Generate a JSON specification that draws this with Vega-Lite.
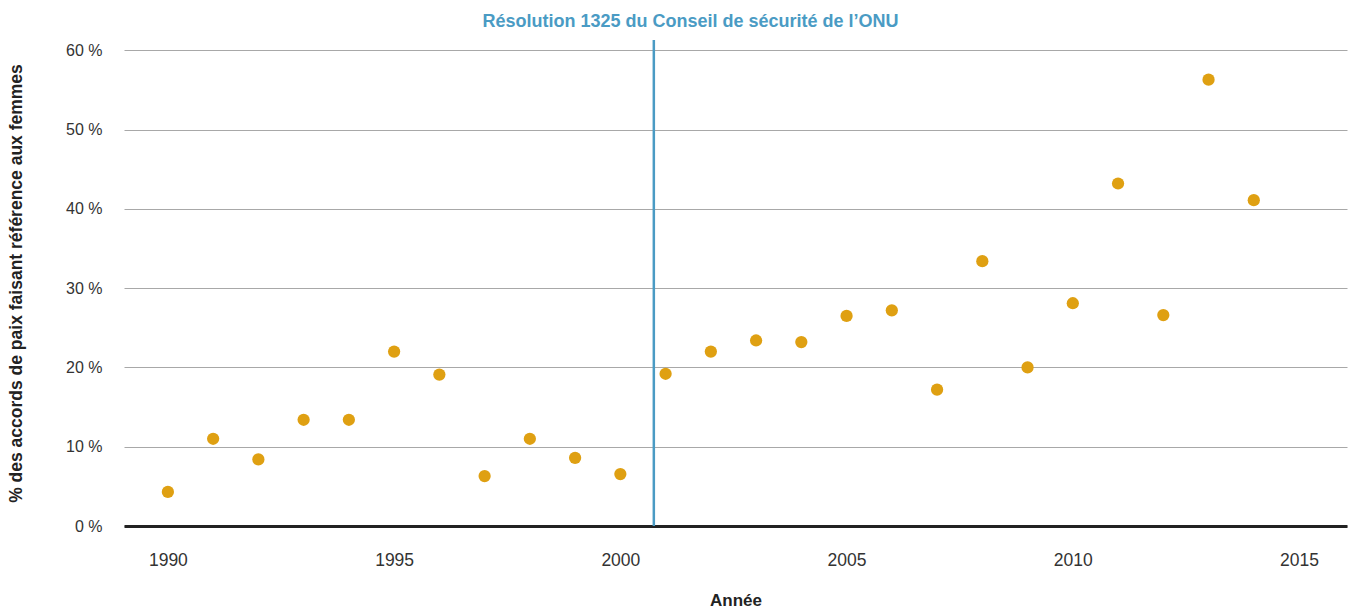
{
  "$schema": "https://vega.github.io/schema/vega-lite/v6.json",
  "autosize": "none",
  "width": 1223,
  "height": 486,
  "padding": {"left": 124, "top": 40, "right": 2, "bottom": 86},
  "background": "white",
  "config": {
    "view": {"stroke": null},
    "font": "Liberation Sans"
  },
  "datasets": {
    "pts": [
      {"annee": 1990, "pct": 4.3},
      {"annee": 1991, "pct": 11.0},
      {"annee": 1992, "pct": 8.4},
      {"annee": 1993, "pct": 13.4},
      {"annee": 1994, "pct": 13.4},
      {"annee": 1995, "pct": 22.0},
      {"annee": 1996, "pct": 19.1},
      {"annee": 1997, "pct": 6.3},
      {"annee": 1998, "pct": 11.0},
      {"annee": 1999, "pct": 8.6},
      {"annee": 2000, "pct": 6.55},
      {"annee": 2001, "pct": 19.2},
      {"annee": 2002, "pct": 22.0},
      {"annee": 2003, "pct": 23.4},
      {"annee": 2004, "pct": 23.2},
      {"annee": 2005, "pct": 26.5},
      {"annee": 2006, "pct": 27.2},
      {"annee": 2007, "pct": 17.2},
      {"annee": 2008, "pct": 33.4},
      {"annee": 2009, "pct": 20.0},
      {"annee": 2010, "pct": 28.1},
      {"annee": 2011, "pct": 43.2},
      {"annee": 2012, "pct": 26.6},
      {"annee": 2013, "pct": 56.3},
      {"annee": 2014, "pct": 41.1}
    ],
    "evt": [
      {"annee": 2000.74, "y0": 0, "y1": 61.3, "tx": 2001.55, "ty": 63.0, "label": "Résolution 1325 du Conseil de sécurité de l’ONU"}
    ]
  },
  "layer": [
    {
      "data": {"name": "pts"},
      "mark": {"type": "circle", "size": 150, "color": "#DFA012", "opacity": 1},
      "encoding": {
        "x": {
          "field": "annee", "type": "quantitative",
          "scale": {"domain": [1989.03, 2016.06], "nice": false, "zero": false},
          "axis": {
            "title": "Année",
            "values": [1990, 1995, 2000, 2005, 2010, 2015],
            "format": "d",
            "grid": false,
            "ticks": false,
            "domain": true,
            "domainColor": "#222222",
            "domainWidth": 3,
            "labelFontSize": 17.5,
            "labelColor": "#333333",
            "labelPadding": 25,
            "titleFontSize": 17,
            "titleFontWeight": "bold",
            "titleColor": "#222222",
            "titlePadding": 24
          }
        },
        "y": {
          "field": "pct", "type": "quantitative",
          "scale": {"domain": [0, 61.3], "nice": false},
          "axis": {
            "title": "% des accords de paix faisant référence aux femmes",
            "values": [0, 10, 20, 30, 40, 50, 60],
            "labelExpr": "datum.value + ' %'",
            "grid": true,
            "gridColor": "#a8a8a8",
            "gridWidth": 1,
            "ticks": false,
            "domain": false,
            "labelFontSize": 16,
            "labelColor": "#333333",
            "labelPadding": 22,
            "titleFontSize": 17.5,
            "titleFontWeight": "bold",
            "titleColor": "#222222",
            "titlePadding": 40
          }
        }
      }
    },
    {
      "data": {"name": "evt"},
      "mark": {"type": "rule", "color": "#4A9BC4", "strokeWidth": 2.5},
      "encoding": {
        "x": {"field": "annee", "type": "quantitative"},
        "y": {"field": "y0", "type": "quantitative"},
        "y2": {"field": "y1"}
      }
    },
    {
      "data": {"name": "evt"},
      "mark": {"type": "text", "color": "#4A9BC4", "fontWeight": "bold", "fontSize": 18, "align": "center", "baseline": "alphabetic", "clip": false},
      "encoding": {
        "x": {"field": "tx", "type": "quantitative"},
        "y": {"field": "ty", "type": "quantitative"},
        "text": {"field": "label"}
      }
    }
  ]
}
